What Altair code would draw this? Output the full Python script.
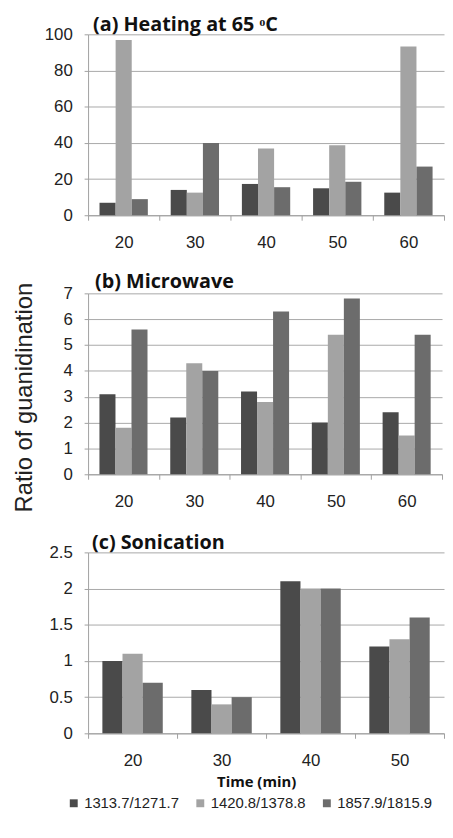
import altair as alt
import pandas as pd

series = ["1313.7/1271.7", "1420.8/1378.8", "1857.9/1815.9"]
colors = ["#4a4a4a", "#a3a3a3", "#6c6c6c"]

times_a = [20, 30, 40, 50, 60]
a_s1 = [6.9, 14, 17.3, 14.9, 12.5]
a_s2 = [96.9, 12.5, 36.9, 38.7, 93.3]
a_s3 = [8.9, 40, 15.5, 18.5, 26.9]
ticks_a = [0, 20, 40, 60, 80, 100]

times_b = [20, 30, 40, 50, 60]
b_s1 = [3.1, 2.2, 3.2, 2.0, 2.4]
b_s2 = [1.8, 4.3, 2.8, 5.4, 1.5]
b_s3 = [5.6, 4.0, 6.3, 6.8, 5.4]
ticks_b = [0, 1, 2, 3, 4, 5, 6, 7]

times_c = [20, 30, 40, 50]
c_s1 = [1.0, 0.6, 2.1, 1.2]
c_s2 = [1.1, 0.4, 2.0, 1.3]
c_s3 = [0.7, 0.5, 2.0, 1.6]
ticks_c = [0, 0.5, 1, 1.5, 2, 2.5]

titles = ["(a) Heating at 65 \u1d52C", "(b) Microwave", "(c) Sonication"]


def long_df(times, s1, s2, s3):
    rows = []
    for vals, s in zip([s1, s2, s3], series):
        for t, v in zip(times, vals):
            rows.append({"time": str(t), "series": s, "value": v})
    return pd.DataFrame(rows)


LEGEND = alt.Legend(orient="none", legendX=-22, legendY=770, direction="horizontal",
                    columns=3, title=None, symbolType="square", symbolSize=64,
                    symbolStrokeWidth=0, labelFont="Liberation Sans", labelFontSize=15,
                    labelColor="#222222", labelOffset=3, columnPadding=14)


def panel(df, times, ticks, title, width, title_dx, ytitle=None, xtitle=None):
    if ytitle:
        yaxis = alt.Axis(values=ticks, format="~r", tickSize=4, grid=True, labelPadding=12,
                         title=ytitle, titleX=-52, titleY=105, titleAngle=270,
                         titleBaseline="bottom", titleAlign="center",
                         titleFont="Liberation Sans", titleFontSize=24,
                         titleFontWeight="normal", titleColor="#222222")
    else:
        yaxis = alt.Axis(values=ticks, format="~r", tickSize=4, grid=True, labelPadding=12,
                         title=None)
    if xtitle:
        xaxis = alt.Axis(labelAngle=0, tickBand="extent", tickSize=5, grid=False, labelPadding=15,
                         title=xtitle, titleFont="Open Sans", titleFontSize=15, titleX=170,
                         titleFontWeight="bold", titlePadding=6, titleColor="#111111")
    else:
        xaxis = alt.Axis(labelAngle=0, tickBand="extent", tickSize=5, grid=False, labelPadding=15,
                         title=None)
    return alt.Chart(df).mark_bar().encode(
        x=alt.X("time:N", sort=[str(t) for t in times], axis=xaxis,
                scale=alt.Scale(paddingInner=0, paddingOuter=0)),
        xOffset=alt.XOffset("series:N", sort=series,
                            scale=alt.Scale(paddingInner=0, paddingOuter=0.71)),
        y=alt.Y("value:Q", axis=yaxis, scale=alt.Scale(domain=[ticks[0], ticks[-1]], nice=False)),
        color=alt.Color("series:N", sort=series,
                        scale=alt.Scale(domain=series, range=colors), legend=LEGEND),
    ).properties(
        width=width, height=183,
        title=alt.TitleParams(title, anchor="start", frame="group", font="Open Sans", fontSize=20,
                              fontWeight="bold", color="#111111", offset=-10, dx=title_dx),
    )


pa = panel(long_df(times_a, a_s1, a_s2, a_s3), times_a, ticks_a, titles[0], 360, 5)
pb = panel(long_df(times_b, b_s1, b_s2, b_s3), times_b, ticks_b, titles[1], 358, 7,
           ytitle="Ratio of guanidination")
pc = panel(long_df(times_c, c_s1, c_s2, c_s3), times_c, ticks_c, titles[2], 360, 4,
           xtitle="Time (min)")

chart = alt.vconcat(pa, pb, pc, spacing=21).resolve_scale(
    x="independent", y="independent", xOffset="independent", color="shared"
).properties(
    padding={"left": 4, "top": 3, "right": 0, "bottom": 0}
).configure_view(stroke=None).configure_axis(
    labelFont="Liberation Sans", labelFontSize=17, labelColor="#222222",
    domainColor="#a0a0a0", gridColor="#a8a8a8", tickColor="#a0a0a0",
)

chart.save("out.html", embed_options={"renderer": "svg", "actions": False})
